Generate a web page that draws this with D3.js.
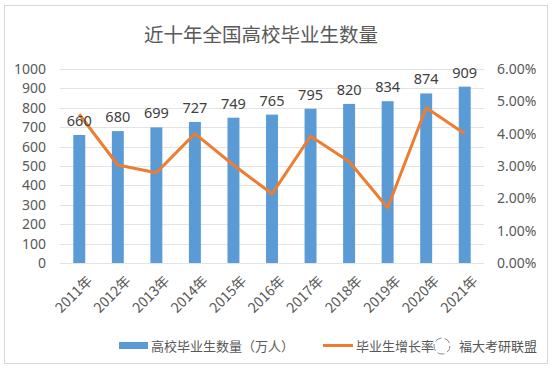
<!DOCTYPE html>
<html>
<head>
<meta charset="utf-8">
<script src="https://cdn.jsdelivr.net/npm/d3@7"></script>
<style>
  body { margin: 0; background: #fff; }
  svg { display: block; font-family: "Noto Sans CJK SC", "Noto Sans", sans-serif; }
</style>
</head>
<body>
<svg id="chart" width="554" height="374"></svg>
<script>
// data
var years = ["2011年", "2012年", "2013年", "2014年", "2015年", "2016年", "2017年", "2018年", "2019年", "2020年", "2021年"];
var graduates = [660, 680, 699, 727, 749, 765, 795, 820, 834, 874, 909];
var growth = [0.046, 0.0303, 0.0279, 0.040, 0.0303, 0.0214, 0.0392, 0.0314, 0.0171, 0.048, 0.040];
var leftTicks = [0, 100, 200, 300, 400, 500, 600, 700, 800, 900, 1000];
var rightTicks = [0, 0.01, 0.02, 0.03, 0.04, 0.05, 0.06];

var svg = d3.select("#chart");
var plot = { left: 60, right: 484, top: 69, bottom: 263 };

// outer frame
svg.append("rect")
    .attr("x", 4.5).attr("y", 5.5)
    .attr("width", 543).attr("height", 358)
    .attr("fill", "#fff")
    .attr("stroke", "#d9d9d9");

svg.append("text")
    .attr("x", 261).attr("y", 42)
    .attr("text-anchor", "middle")
    .attr("font-size", 19.5)
    .attr("fill", "#595959")
    .text("近十年全国高校毕业生数量");

var x = d3.scaleBand().domain(years).range([plot.left, plot.right]).paddingInner(0.69).paddingOuter(0.345);
var y = d3.scaleLinear().domain([0, 1000]).range([plot.bottom, plot.top]);
var y2 = d3.scaleLinear().domain([0, 0.06]).range([plot.bottom, plot.top]);

// gridlines
svg.append("g")
    .selectAll("line")
    .data(leftTicks).enter()
    .append("line")
    .attr("x1", plot.left).attr("x2", plot.right)
    .attr("y1", d => Math.round(y(d)) + 0.5)
    .attr("y2", d => Math.round(y(d)) + 0.5)
    .attr("stroke", "#e3e3e3");

// left axis
var leftAxis = svg.append("g")
    .attr("transform", "translate(" + (plot.left - 14) + ",0)")
    .call(d3.axisLeft(y).tickValues(leftTicks).tickFormat(d3.format("d")).tickSize(0).tickPadding(0));
leftAxis.select(".domain").remove();
leftAxis.selectAll("text").attr("font-size", 14).attr("fill", "#595959").attr("font-family", "Noto Sans, sans-serif");

// right axis
var rightAxis = svg.append("g")
    .attr("transform", "translate(" + (plot.right + 13) + ",0)")
    .call(d3.axisRight(y2).tickValues(rightTicks).tickFormat(d3.format(".2%")).tickSize(0).tickPadding(0));
rightAxis.select(".domain").remove();
rightAxis.selectAll("text").attr("font-size", 14).attr("fill", "#595959").attr("font-family", "Noto Sans, sans-serif");

// bars
svg.append("g")
    .selectAll("rect")
    .data(graduates).enter()
    .append("rect")
    .attr("x", (d, i) => x(years[i]))
    .attr("width", x.bandwidth())
    .attr("y", d => y(d))
    .attr("height", d => y(0) - y(d))
    .attr("fill", "#5b9bd5");

// growth line
var line = d3.line()
    .x((d, i) => x(years[i]) + x.bandwidth() / 2)
    .y(d => y2(d));
svg.append("path")
    .datum(growth)
    .attr("d", line)
    .attr("fill", "none")
    .attr("stroke", "#ed7d31")
    .attr("stroke-width", 3)
    .attr("stroke-linejoin", "round");

// bar labels
svg.append("g")
    .selectAll("text")
    .data(graduates).enter()
    .append("text")
    .attr("x", (d, i) => x(years[i]) + x.bandwidth() / 2)
    .attr("y", d => y(d) - 9)
    .attr("text-anchor", "middle")
    .attr("font-size", 14.5)
    .attr("font-family", "Noto Sans, sans-serif")
    .attr("fill", "#404040")
    .text(d => d);

// x labels, rotated
svg.append("g")
    .selectAll("text")
    .data(years).enter()
    .append("text")
    .attr("transform", d => "translate(" + (x(d) + x.bandwidth() / 2 + 7) + "," + (plot.bottom + 12) + ") rotate(-45)")
    .attr("text-anchor", "end")
    .attr("dy", "0.7em")
    .attr("font-size", 14)
    .attr("fill", "#595959")
    .text(d => d);

// legend
var legend = svg.append("g");
legend.append("rect")
    .attr("x", 119).attr("y", 342)
    .attr("width", 29).attr("height", 7)
    .attr("fill", "#5b9bd5");
legend.append("text")
    .attr("x", 151).attr("y", 351)
    .attr("font-size", 13)
    .attr("fill", "#595959")
    .text("高校毕业生数量（万人）");
legend.append("line")
    .attr("x1", 323).attr("x2", 353)
    .attr("y1", 345.5).attr("y2", 345.5)
    .attr("stroke", "#ed7d31")
    .attr("stroke-width", 3);
legend.append("text")
    .attr("x", 356).attr("y", 351)
    .attr("font-size", 13)
    .attr("fill", "#595959")
    .text("毕业生增长率");

// watermark
var wm = svg.append("g");
wm.append("circle").attr("cx", 442).attr("cy", 346).attr("r", 8)
    .attr("fill", "#fff").attr("stroke", "#8a8a8a").attr("stroke-width", 1).attr("stroke-dasharray", "7,3");
wm.append("text")
    .attr("x", 459).attr("y", 351)
    .attr("font-size", 13)
    .attr("fill", "#555")
    .text("福大考研联盟");
</script>
</body>
</html>
